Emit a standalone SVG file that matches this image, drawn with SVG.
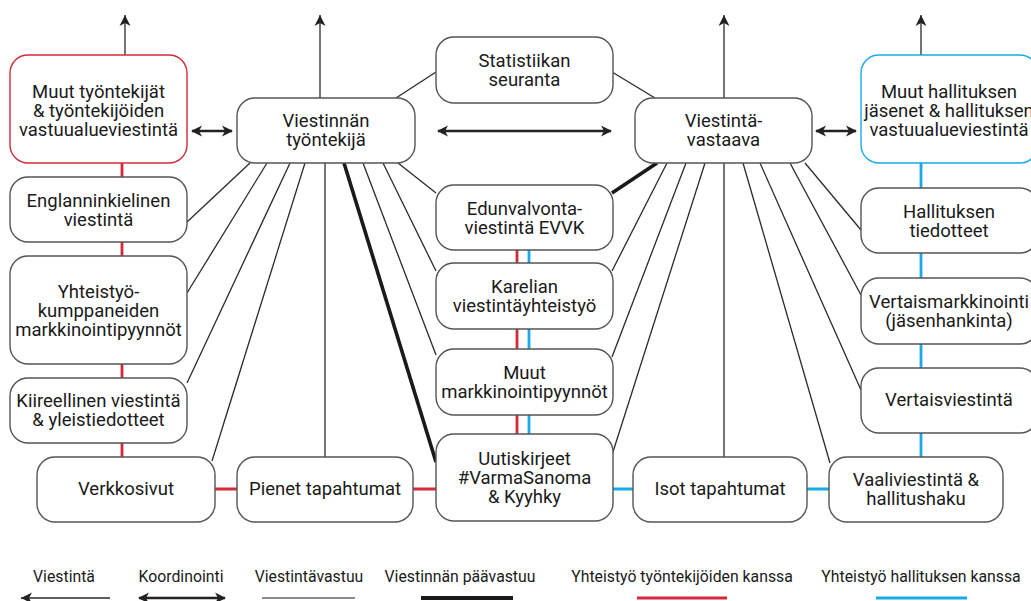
<svg xmlns="http://www.w3.org/2000/svg" width="1031" height="601" viewBox="0 0 1031 601">
<style>
.box{fill:#fff;stroke:#555;stroke-width:1.4}
.red{stroke:#d42a3a}
.blue{stroke:#1aa9e8}
text{font-family:Roboto,"Liberation Sans",sans-serif;font-size:18.5px;fill:#1a1a1a;text-anchor:middle}
.lg{font-size:15.8px}
.thin{stroke:#2a2a2a;stroke-width:1.3;fill:none}
.thick{stroke:#1a1a1a;stroke-width:3.6;fill:none}
.coord{stroke:#222;stroke-width:2.6;fill:none}
.rl{stroke:#d42a3a;stroke-width:2.8;fill:none}
.bl{stroke:#1aa9e8;stroke-width:2.8;fill:none}
</style>
<defs>
<marker id="ah" markerUnits="userSpaceOnUse" markerWidth="12" markerHeight="12" refX="11" refY="5.5" orient="auto" viewBox="0 0 12 11">
<path d="M0,0 L11,5.5 L0,11 L3,5.5 Z" fill="#222"/>
</marker>
<marker id="ch" markerUnits="userSpaceOnUse" markerWidth="12" markerHeight="12" refX="10" refY="5.5" orient="auto-start-reverse" viewBox="0 0 12 11">
<path d="M0,0 L11,5.5 L0,11 L3,5.5 Z" fill="#222"/>
</marker>
</defs>
<rect width="1031" height="601" fill="#fff"/>
<g id="connectors">
<line class="thin" x1="125" y1="55" x2="125" y2="15" marker-end="url(#ah)"/>
<line class="thin" x1="320" y1="98" x2="320" y2="15" marker-end="url(#ah)"/>
<line class="thin" x1="724" y1="98" x2="724" y2="15" marker-end="url(#ah)"/>
<line class="thin" x1="921" y1="55" x2="921" y2="15" marker-end="url(#ah)"/>
<line class="coord" x1="192" y1="131" x2="232" y2="131" marker-start="url(#ch)" marker-end="url(#ch)"/>
<line class="coord" x1="438" y1="131" x2="611" y2="131" marker-start="url(#ch)" marker-end="url(#ch)"/>
<line class="coord" x1="816" y1="131" x2="856" y2="131" marker-start="url(#ch)" marker-end="url(#ch)"/>
<line class="thin" x1="396" y1="98" x2="436" y2="72"/>
<line class="thin" x1="250" y1="163" x2="187" y2="222"/>
<line class="thin" x1="267" y1="163" x2="187" y2="293"/>
<line class="thin" x1="290" y1="163" x2="187" y2="383"/>
<line class="thin" x1="305" y1="163" x2="212" y2="461"/>
<line class="thin" x1="325" y1="163" x2="325" y2="457"/>
<line class="thick" x1="344" y1="163" x2="436" y2="462"/>
<line class="thin" x1="363" y1="163" x2="436" y2="355"/>
<line class="thin" x1="383" y1="163" x2="436" y2="271"/>
<line class="thin" x1="398" y1="163" x2="436" y2="193"/>
<line class="thin" x1="612" y1="72" x2="655" y2="98"/>
<line class="thick" x1="657" y1="163" x2="612" y2="193"/>
<line class="thin" x1="667" y1="163" x2="612" y2="271"/>
<line class="thin" x1="686" y1="163" x2="612" y2="357"/>
<line class="thin" x1="705" y1="163" x2="612" y2="455"/>
<line class="thin" x1="724" y1="163" x2="724" y2="457"/>
<line class="thin" x1="743" y1="163" x2="830" y2="463"/>
<line class="thin" x1="760" y1="163" x2="861" y2="390"/>
<line class="thin" x1="790" y1="163" x2="861" y2="295"/>
<line class="thin" x1="805" y1="163" x2="861" y2="230"/>
<path class="rl" d="M122,163V177M122,242V256M122,364V378M122,443V457M215,489H237M413,489H436M517,250V263M517,329V349M517,415V434"/>
<path class="bl" d="M529,250V263M529,329V349M529,415V434M613,489H633M807,489H829M921,163V188M921,253V278M921,344V368M921,433V457"/>
</g>
<g id="n-muut-tyontekijat"><rect class="box red" x="10" y="55" width="177" height="108" rx="18"/><text x="98.5" y="98">Muut työntekijät</text><text x="98.5" y="117">&amp; työntekijöiden</text><text x="98.5" y="136">vastuualueviestintä</text></g>
<g id="n-viestinnan-tyontekija"><rect class="box" x="237" y="98" width="178" height="65" rx="18"/><text x="326" y="127">Viestinnän</text><text x="326" y="146">työntekijä</text></g>
<g id="n-statistiikan"><rect class="box" x="436" y="37" width="177" height="66" rx="18"/><text x="524.5" y="67">Statistiikan</text><text x="524.5" y="86">seuranta</text></g>
<g id="n-viestintavastaava"><rect class="box" x="635" y="98" width="177" height="65" rx="18"/><text x="723.5" y="127">Viestintä-</text><text x="723.5" y="146">vastaava</text></g>
<g id="n-muut-hallitus"><rect class="box blue" x="861" y="55" width="177" height="108" rx="18"/><text x="949" y="98">Muut hallituksen</text><text x="949" y="117">jäsenet &amp; hallituksen</text><text x="949" y="136">vastuualueviestintä</text></g>
<g id="n-englanninkielinen"><rect class="box" x="10" y="177" width="177" height="65" rx="18"/><text x="98.5" y="207">Englanninkielinen</text><text x="98.5" y="226">viestintä</text></g>
<g id="n-yhteistyo"><rect class="box" x="10" y="256" width="177" height="108" rx="18"/><text x="98.5" y="298">Yhteistyö-</text><text x="98.5" y="317">kumppaneiden</text><text x="98.5" y="336">markkinointipyynnöt</text></g>
<g id="n-kiireellinen"><rect class="box" x="10" y="378" width="177" height="65" rx="18"/><text x="98.5" y="407">Kiireellinen viestintä</text><text x="98.5" y="426">&amp; yleistiedotteet</text></g>
<g id="n-verkkosivut"><rect class="box" x="37" y="457" width="178" height="65" rx="18"/><text x="126" y="495">Verkkosivut</text></g>
<g id="n-pienet"><rect class="box" x="237" y="457" width="176" height="65" rx="18"/><text x="325" y="495">Pienet tapahtumat</text></g>
<g id="n-edunvalvonta"><rect class="box" x="436" y="185" width="177" height="65" rx="18"/><text x="524.5" y="215">Edunvalvonta-</text><text x="524.5" y="234">viestintä EVVK</text></g>
<g id="n-karelian"><rect class="box" x="436" y="263" width="177" height="66" rx="18"/><text x="524.5" y="293">Karelian</text><text x="524.5" y="312">viestintäyhteistyö</text></g>
<g id="n-muut-markkinointi"><rect class="box" x="436" y="349" width="177" height="66" rx="18"/><text x="524.5" y="379">Muut</text><text x="524.5" y="398">markkinointipyynnöt</text></g>
<g id="n-uutiskirjeet"><rect class="box" x="436" y="434" width="177" height="87" rx="18"/><text x="524.5" y="465">Uutiskirjeet</text><text x="524.5" y="484">#VarmaSanoma</text><text x="524.5" y="503">&amp; Kyyhky</text></g>
<g id="n-isot"><rect class="box" x="633" y="457" width="174" height="65" rx="18"/><text x="720" y="495">Isot tapahtumat</text></g>
<g id="n-vaali"><rect class="box" x="829" y="457" width="174" height="65" rx="18"/><text x="916" y="486">Vaaliviestintä &amp;</text><text x="916" y="505">hallitushaku</text></g>
<g id="n-hallituksen-tiedotteet"><rect class="box" x="861" y="188" width="177" height="65" rx="18"/><text x="949" y="218">Hallituksen</text><text x="949" y="237">tiedotteet</text></g>
<g id="n-vertaismarkkinointi"><rect class="box" x="861" y="278" width="177" height="66" rx="18"/><text x="949" y="308">Vertaismarkkinointi</text><text x="949" y="327">(jäsenhankinta)</text></g>
<g id="n-vertaisviestinta"><rect class="box" x="861" y="368" width="177" height="65" rx="18"/><text x="949" y="406">Vertaisviestintä</text></g>
<g id="legend">
<text class="lg" x="64" y="582">Viestintä</text>
<text class="lg" x="181" y="582">Koordinointi</text>
<text class="lg" x="309" y="582">Viestintävastuu</text>
<text class="lg" x="460" y="582">Viestinnän päävastuu</text>
<text class="lg" x="682" y="582">Yhteistyö työntekijöiden kanssa</text>
<text class="lg" x="921" y="582">Yhteistyö hallituksen kanssa</text>
<line class="thin" x1="110" y1="598" x2="21" y2="598" stroke="#555" marker-end="url(#ah)"/>
<line class="coord" x1="139" y1="598" x2="225" y2="598" marker-start="url(#ch)" marker-end="url(#ch)"/>
<line x1="262" y1="598" x2="355" y2="598" stroke="#666" stroke-width="1.3"/>
<line x1="421" y1="598" x2="513" y2="598" stroke="#1a1a1a" stroke-width="3.8"/>
<line class="rl" x1="637" y1="598" x2="727" y2="598"/>
<line class="bl" x1="876" y1="598" x2="967" y2="598"/>
</g>
</svg>
